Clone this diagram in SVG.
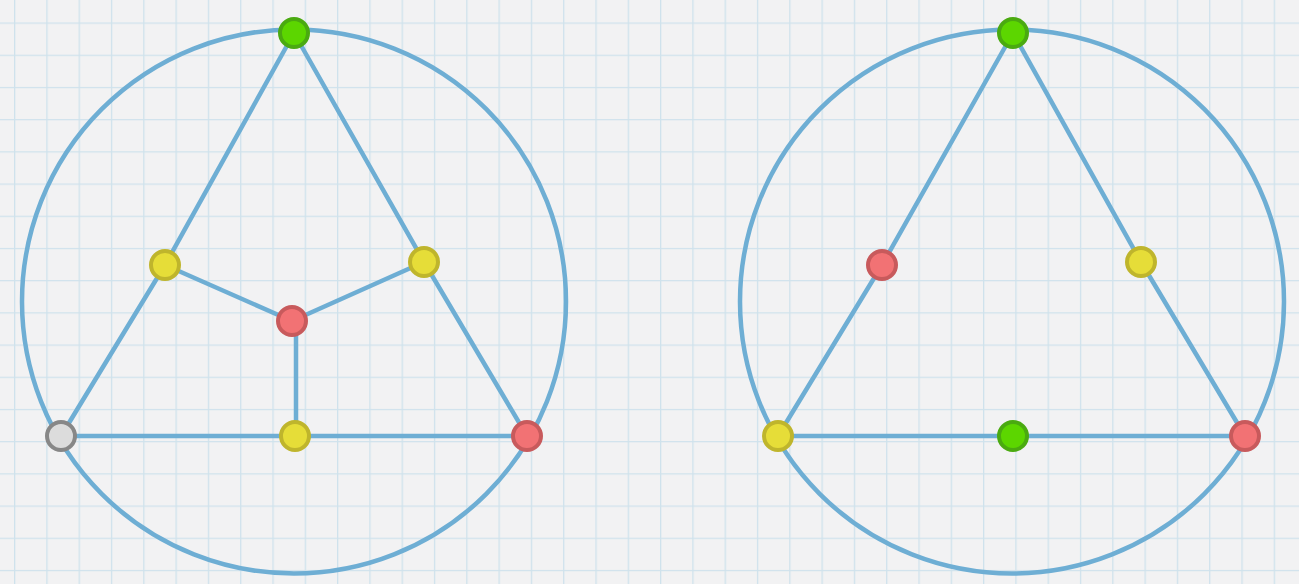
<svg xmlns="http://www.w3.org/2000/svg" width="1299" height="584" viewBox="0 0 1299 584">
<style>
.edge{stroke:#6eaed4;stroke-width:4.5;fill:none;stroke-linecap:round}
.ring{stroke:#6eaed4;stroke-width:4.5;fill:none}
.n{stroke-width:4}
.g{fill:#5cd600;stroke:#4aaa10}
.y{fill:#e6dd38;stroke:#bfb52c}
.r{fill:#f27274;stroke:#c85a5c}
.x{fill:#dcdcdc;stroke:#878787}
</style>
<defs>
<pattern id="grid" x="14" y="22.5" width="32.3" height="32.2" patternUnits="userSpaceOnUse">
<path d="M0 0V32.2M0 0H32.3" stroke="#cfe2ec" stroke-width="2.6" fill="none"/>
</pattern>
</defs>
<rect width="1299" height="584" fill="#f2f2f3"/>
<rect width="1299" height="584" fill="url(#grid)"/>
<g id="connectors">
<circle class="ring" cx="294" cy="301.5" r="272"/>
<circle class="ring" cx="1012" cy="301.5" r="272"/>
<line class="edge" x1="294" y1="33" x2="165" y2="265"/>
<line class="edge" x1="165" y1="265" x2="61" y2="436"/>
<line class="edge" x1="294" y1="33" x2="424" y2="262"/>
<line class="edge" x1="424" y1="262" x2="527" y2="436"/>
<line class="edge" x1="165" y1="265" x2="292" y2="321"/>
<line class="edge" x1="424" y1="262" x2="292" y2="321"/>
<line class="edge" x1="296" y1="321" x2="296" y2="436"/>
<line class="edge" x1="61" y1="436" x2="527" y2="436"/>
<line class="edge" x1="1013" y1="33" x2="882" y2="265"/>
<line class="edge" x1="882" y1="265" x2="778" y2="436"/>
<line class="edge" x1="1013" y1="33" x2="1141" y2="262"/>
<line class="edge" x1="1141" y1="262" x2="1245" y2="436"/>
<line class="edge" x1="778" y1="436" x2="1245" y2="436"/>
</g>
<g id="L_top"><circle class="n g" cx="294" cy="33" r="14"/></g>
<g id="L_left"><circle class="n y" cx="165" cy="265" r="14"/></g>
<g id="L_right"><circle class="n y" cx="424" cy="262" r="14"/></g>
<g id="L_center"><circle class="n r" cx="292" cy="321" r="14"/></g>
<g id="L_bl"><circle class="n x" cx="61" cy="436" r="14"/></g>
<g id="L_bm"><circle class="n y" cx="295" cy="436" r="14"/></g>
<g id="L_br"><circle class="n r" cx="527" cy="436" r="14"/></g>
<g id="R_top"><circle class="n g" cx="1013" cy="33" r="14"/></g>
<g id="R_left"><circle class="n r" cx="882" cy="265" r="14"/></g>
<g id="R_right"><circle class="n y" cx="1141" cy="262" r="14"/></g>
<g id="R_bl"><circle class="n y" cx="778" cy="436" r="14"/></g>
<g id="R_bm"><circle class="n g" cx="1013" cy="436" r="14"/></g>
<g id="R_br"><circle class="n r" cx="1245" cy="436" r="14"/></g>
</svg>
